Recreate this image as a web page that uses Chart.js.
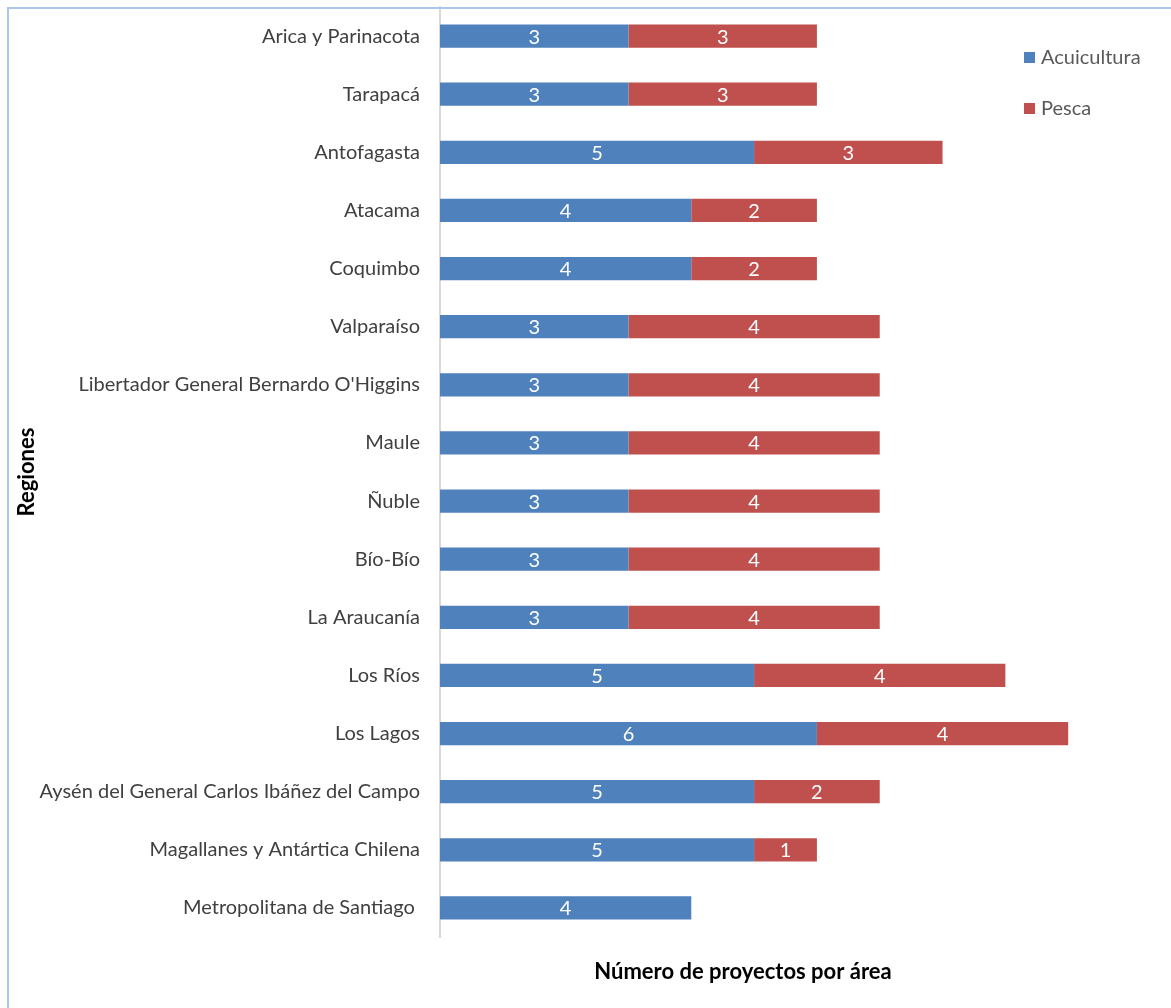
<!DOCTYPE html>
<html><head><meta charset="utf-8">
<script src="https://cdn.jsdelivr.net/npm/chart.js@4"></script>
<style>
html,body{margin:0;padding:0;background:#fff;overflow:hidden}
#wrap{position:absolute;left:0;top:0;width:1171px;height:1008px}
#frame{position:absolute;left:7px;top:7px;width:1300px;height:1200px;border-left:2px solid #a9c7eb;border-top:2px solid #a9c7eb;pointer-events:none}
</style></head>
<body>
<div id="wrap"><canvas id="c" width="1171" height="1008" style="width:1171px;height:1008px"></canvas></div>
<div id="frame"></div>
<script>
const regiones = [
  'Arica y Parinacota','Tarapacá','Antofagasta','Atacama','Coquimbo','Valparaíso',
  "Libertador General Bernardo O'Higgins",'Maule','Ñuble','Bío-Bío','La Araucanía',
  'Los Ríos','Los Lagos','Aysén del General Carlos Ibáñez del Campo',
  'Magallanes y Antártica Chilena','Metropolitana de Santiago '
];
const acuicultura = [3,3,5,4,4,3,3,3,3,3,3,5,6,5,5,4];
const pesca       = [3,3,3,2,2,4,4,4,4,4,4,4,4,2,1,0];
const seriesNames = ['Acuicultura','Pesca'];
const xTitle = 'Número de proyectos por área';
const yTitle = 'Regiones';

const FONT = 'Lato';
const COLORS = ['#4f81bd','#c0504d'];

const labelsPlugin = {
  id: 'segLabels',
  afterDatasetsDraw(chart) {
    const ctx = chart.ctx;
    ctx.save();
    ctx.font = '20px ' + FONT;
    ctx.fillStyle = '#ffffff';
    ctx.textAlign = 'center';
    ctx.textBaseline = 'middle';
    chart.data.datasets.forEach((ds, di) => {
      const meta = chart.getDatasetMeta(di);
      meta.data.forEach((bar, i) => {
        const v = ds.data[i];
        if (!v) return;
        const p = bar.getProps(['x','y','base'], true);
        ctx.fillText(String(v), (p.x + p.base) / 2, p.y + 1);
      });
    });
    ctx.restore();
  },
  afterDraw(chart) {
    const ctx = chart.ctx;
    const ca = chart.chartArea;
    ctx.save();
    ctx.font = 'bold 22px ' + FONT;
    ctx.fillStyle = '#000000';
    ctx.textAlign = 'center';
    ctx.textBaseline = 'middle';
    ctx.fillText(xTitle, ca.left + 303, ca.bottom + 35);
    ctx.font = '20px ' + FONT;
    ctx.textAlign = 'left';
    chart.data.datasets.forEach((ds, di) => {
      const cy = 57 + di * 51;
      ctx.fillStyle = ds.backgroundColor;
      ctx.fillRect(1024, cy - 5, 11, 11);
      ctx.fillStyle = '#595959';
      ctx.fillText(ds.label, 1041, cy + 1);
    });
    ctx.restore();
  }
};

new Chart(document.getElementById('c'), {
  type: 'bar',
  data: {
    labels: regiones,
    datasets: [
      { label: seriesNames[0], data: acuicultura, backgroundColor: COLORS[0] },
      { label: seriesNames[1], data: pesca, backgroundColor: COLORS[1] }
    ]
  },
  options: {
    indexAxis: 'y',
    responsive: false,
    animation: false,
    devicePixelRatio: 1,
    layout: { padding: { left: 10, top: 7, right: 40, bottom: 71 } },
    datasets: { bar: { barPercentage: 0.4, categoryPercentage: 1.0 } },
    plugins: { legend: { display: false }, tooltip: { enabled: false } },
    scales: {
      x: { stacked: true, min: 0, max: 11, display: false },
      y: {
        stacked: true,
        grid: { display: false, drawTicks: false },
        border: { display: true, color: '#d9d9d9', width: 2 },
        ticks: { font: { family: FONT, size: 20 }, color: '#404040', padding: 20, autoSkip: false },
        title: { display: true, text: yTitle, font: { family: FONT, size: 22, weight: 'bold' }, color: '#000000', padding: { top: 4, bottom: 0 } },
        afterFit(scale) { scale.width = 430; scale.paddingTop = 0; scale.paddingBottom = 0; }
      }
    }
  },
  plugins: [labelsPlugin]
});
</script>
</body></html>
